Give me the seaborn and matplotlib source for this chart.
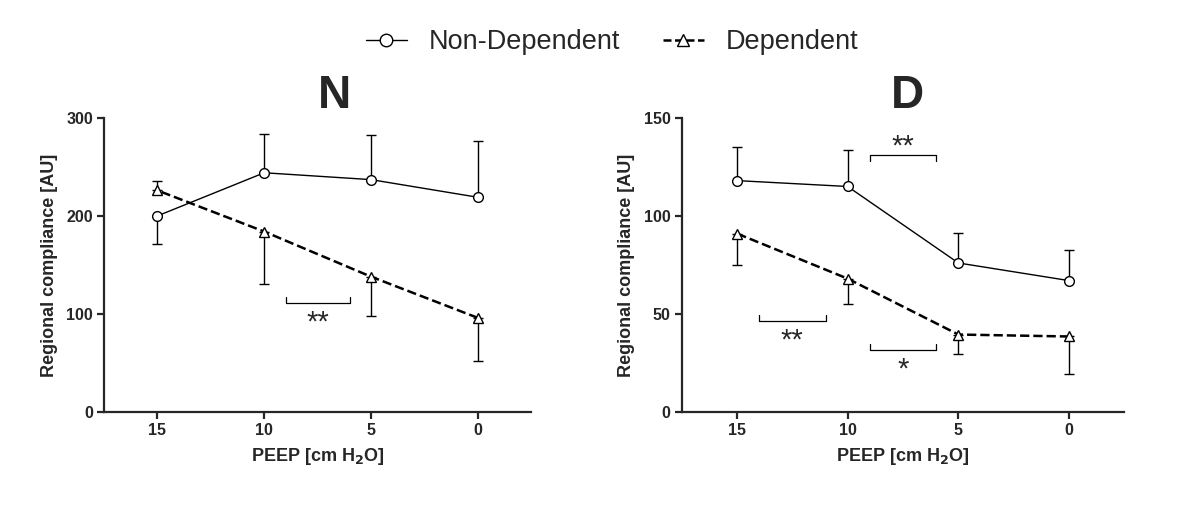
import matplotlib
matplotlib.use('Agg')
import matplotlib.pyplot as plt
from matplotlib.lines import Line2D
import seaborn as sns
import pandas as pd
import numpy as np

# PEEP steps (cm H2O)
peep = [15, 10, 5, 0]
regions = ['Non-Dependent', 'Dependent']

# panel N
n_nondep = [200, 244, 237, 219]
n_nondep_up = [0, 40, 46, 57]
n_nondep_down = [29, 0, 0, 0]
n_dep = [226, 184, 138, 96]
n_dep_up = [10, 0, 0, 0]
n_dep_down = [0, 53, 40, 44]

# panel D
d_nondep = [118, 115, 76, 67]
d_nondep_up = [17, 18.5, 15.4, 15.8]
d_nondep_down = [0, 0, 0, 0]
d_dep = [91, 68, 39.5, 38.5]
d_dep_up = [0, 0, 0, 0]
d_dep_down = [16, 13, 9.7, 19.3]

# significance brackets: (from, to, y, label)
n_sig = [(9, 6, 111, '**')]
d_sig = [(9, 6, 131, '**'), (14, 11, 46.5, '**'), (9, 6, 31.5, '*')]

sns.set_style('ticks')
plt.rcParams['font.family'] = ['Liberation Sans', 'DejaVu Sans']

fig = plt.figure(figsize=(12, 5.08), dpi=100)
ax_n = fig.add_axes([0.0867, 0.189, 0.356, 0.579])
ax_d = fig.add_axes([0.568, 0.189, 0.369, 0.579])

DASH = (3.2, 1.4)


def draw_panel(ax, nd, nd_up, nd_down, dp, dp_up, dp_down, ymax, sig, title, tx):
    df = pd.DataFrame({'peep': peep * 2,
                       'value': nd + dp,
                       'region': [regions[0]] * 4 + [regions[1]] * 4})
    sns.lineplot(data=df[df.region == 'Non-Dependent'], x='peep', y='value',
                 color='black', lw=1.0, marker='o', markersize=7,
                 markerfacecolor='white', markeredgecolor='black',
                 markeredgewidth=1.0, ax=ax, legend=False, zorder=3)
    sns.lineplot(data=df[df.region == 'Dependent'], x='peep', y='value',
                 color='black', lw=1.8, dashes=DASH, linestyle='--', marker='^',
                 markersize=7, markerfacecolor='white', markeredgecolor='black',
                 markeredgewidth=1.0, ax=ax, legend=False, zorder=3)
    ax.errorbar(peep, nd, yerr=[nd_down, nd_up], fmt='none', ecolor='black',
                elinewidth=1.0, capsize=3.6, capthick=1.0, zorder=2)
    ax.errorbar(peep, dp, yerr=[dp_down, dp_up], fmt='none', ecolor='black',
                elinewidth=1.0, capsize=3.6, capthick=1.0, zorder=2)

    for x1, x2, y, lab in sig:
        h = ymax * 0.02
        if y > max(max(nd), max(dp)):
            ax.plot([x1, x1, x2, x2], [y - h, y, y, y - h], color='black', lw=0.9)
            ax.text((x1 + x2) / 2, y - ymax * 0.02, lab, ha='center', va='bottom',
                    fontsize=21)
        else:
            ax.plot([x1, x1, x2, x2], [y + h, y, y, y + h], color='black', lw=0.9)
            ax.text((x1 + x2) / 2, y - ymax * 0.115, lab, ha='center', va='bottom',
                    fontsize=21)

    ax.set_xlim(17.5, -2.5)
    ax.set_ylim(0, ymax)
    ax.set_xticks(peep)
    ax.set_yticks(np.linspace(0, ymax, 4))
    ax.set_yticklabels([f'{v:g}' for v in np.linspace(0, ymax, 4)])
    sns.despine(ax=ax)
    for s in ['left', 'bottom']:
        ax.spines[s].set_linewidth(1.6)
    ax.tick_params(width=1.6, length=5, labelsize=11.5, pad=3)
    for lab in ax.get_xticklabels() + ax.get_yticklabels():
        lab.set_fontweight('bold')
    ax.set_xlabel('PEEP [cm H$_\\mathbf{2}$O]', fontsize=13, fontweight='bold', labelpad=6)
    ax.set_ylabel('Regional compliance [AU]', fontsize=13, fontweight='bold', labelpad=6)
    ax.text(tx, 1.034, title, transform=ax.transAxes, ha='center', va='baseline',
            fontsize=33, fontweight='bold')


draw_panel(ax_n, n_nondep, n_nondep_up, n_nondep_down, n_dep, n_dep_up, n_dep_down,
           300, n_sig, 'N', 0.54)
draw_panel(ax_d, d_nondep, d_nondep_up, d_nondep_down, d_dep, d_dep_up, d_dep_down,
           150, d_sig, 'D', 0.51)

handles = [Line2D([], [], color='black', lw=1.0, marker='o', markersize=9,
                  markerfacecolor='white'),
           Line2D([], [], color='black', lw=1.8, ls=(0, DASH), marker='^',
                  markersize=9, markerfacecolor='white')]
fig.legend(handles, regions, loc='upper center', bbox_to_anchor=(0.51, 0.99),
           ncol=2, frameon=False, fontsize=19.5, handlelength=1.5, columnspacing=1.6,
           handletextpad=0.8)

fig.savefig('out.png', dpi=100)
